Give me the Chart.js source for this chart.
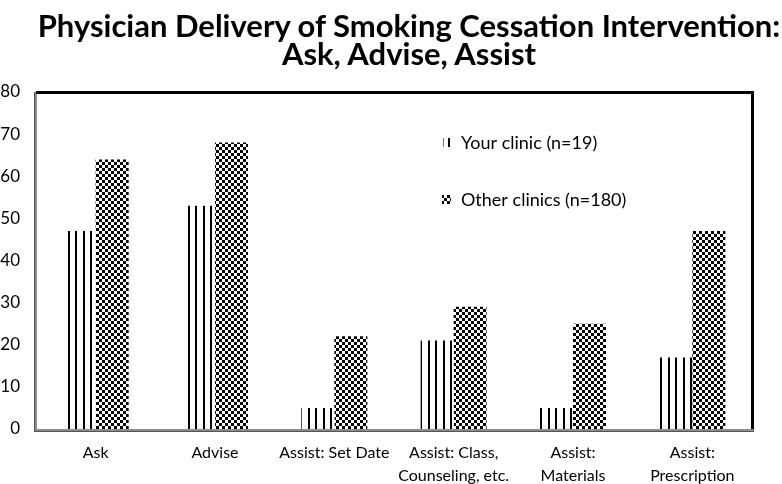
<!DOCTYPE html>
<html>
<head>
<meta charset="utf-8">
<script src="https://cdn.jsdelivr.net/npm/chart.js@4.4.1/dist/chart.umd.min.js"></script>
<style>
  html, body { margin: 0; padding: 0; background: #fff; overflow: hidden; }
  #wrap { width: 782px; height: 484px; position: relative; overflow: hidden; }
  #title {
    position: absolute; left: 9px; top: 11px; width: 800px;
    text-align: center; font: bold 31px/28px Lato, 'Open Sans', sans-serif; color: #000;
  }
</style>
</head>
<body>
<div id="wrap">
  <canvas id="chart"></canvas>
  <div id="title"></div>
</div>
<script>
// DATOS
const categories = [["Ask"], ["Advise"], ["Assist: Set Date"], ["Assist: Class,", "Counseling, etc."], ["Assist:", "Materials"], ["Assist:", "Prescription"]];
const yourClinic = [47, 53, 5, 21, 5, 17];
const otherClinics = [64, 68, 22, 29, 25, 47];
const seriesLabels = ["Your clinic (n=19)", "Other clinics (n=180)"];
const titleLines = ["Physician Delivery of Smoking Cessation Intervention:", "Ask, Advise, Assist"];
const yMin = 0, yMax = 80, yStep = 10;

const FONT = "Lato, 'Open Sans', 'Liberation Sans', sans-serif";
const el = (id) => document.getElementById(id);

el("title").innerHTML = titleLines.join("<br>");

// PATRONES
const makeStripes = () => {
    const c = document.createElement("canvas");
    c.width = 15; c.height = 4;
    const g = c.getContext("2d");
    g.fillStyle = "#fff"; g.fillRect(0, 0, 15, 4);
    g.fillStyle = "#000";
    g.fillRect(0, 0, 2, 4);
    g.fillRect(8, 0, 2, 4);
    return g.createPattern(c, "repeat");
};
const makeChecker = () => {
    const c = document.createElement("canvas");
    c.width = 6; c.height = 6;
    const g = c.getContext("2d");
    g.fillStyle = "#fff"; g.fillRect(0, 0, 6, 6);
    g.fillStyle = "#000";
    g.fillRect(0, 0, 3, 3);
    g.fillRect(3, 3, 3, 3);
    return g.createPattern(c, "repeat");
};
const stripes = makeStripes(), checker = makeChecker();

// MARCO DEL GRAFICO
const framePlugin = {
    id: "frame",
    afterDatasetsDraw(chart) {
        const { ctx, chartArea: a } = chart;
        ctx.save();
        // izquierda y abajo en gris
        ctx.fillStyle = "#8c8c8c";
        ctx.fillRect(a.left - 2, a.top, 3, a.bottom - a.top + 2);
        ctx.fillRect(a.left - 2, a.bottom, a.right - a.left + 4, 3);
        ctx.fillStyle = "#555";
        ctx.fillRect(a.left - 2, a.top, 1, a.bottom - a.top + 3);
        ctx.fillRect(a.left - 2, a.bottom + 2, a.right - a.left + 4, 1);
        // arriba y derecha en negro
        ctx.fillStyle = "#000";
        ctx.fillRect(a.left, a.top - 1, a.right - a.left + 2, 3);
        ctx.fillRect(a.right - 1, a.top - 1, 3, a.bottom - a.top + 1);
        ctx.restore();
    }
};

// LEYENDA DENTRO DEL AREA
const legendPlugin = {
    id: "innerLegend",
    afterDraw(chart) {
        const { ctx, chartArea: a } = chart;
        const x = a.left + 406;
        const ys = [a.top + 50, a.top + 107];
        ctx.save();
        ctx.font = "18px " + FONT;
        ctx.textBaseline = "middle";
        // serie 1: dos rayas
        ctx.fillStyle = "#777";
        ctx.fillRect(x + 1, ys[0] - 4, 1, 9);
        ctx.fillStyle = "#000";
        ctx.fillRect(x + 6, ys[0] - 4, 2, 9);
        // serie 2: cuadro ajedrez
        ctx.fillStyle = checker;
        ctx.fillRect(x, ys[1] - 4, 9, 9);
        ctx.fillStyle = "#000";
        chart.data.datasets.forEach((d, i) => ctx.fillText(d.label, x + 19, ys[i] + 1));
        ctx.restore();
    }
};

new Chart(el("chart"), {
    type: "bar",
    data: {
        labels: categories,
        datasets: [
            { label: seriesLabels[0], data: yourClinic, backgroundColor: stripes, borderWidth: 0 },
            { label: seriesLabels[1], data: otherClinics, backgroundColor: checker, borderWidth: 0 }
        ]
    },
    options: {
        responsive: true,
        maintainAspectRatio: false,
        animation: false,
        layout: { padding: { left: 0, right: 30, top: 92, bottom: 0 } },
        datasets: { bar: { barPercentage: 1, categoryPercentage: 0.553 } },
        plugins: {
            legend: { display: false },
            tooltip: { enabled: false },
            title: { display: false }
        },
        scales: {
            x: {
                grid: { display: false, drawTicks: false },
                border: { display: false },
                ticks: {
                    color: "#000", maxRotation: 0, autoSkip: false, padding: 13,
                    font: { family: FONT, size: 16, lineHeight: 1.4 }
                },
                afterFit: (s) => { s.height = 55; }
            },
            y: {
                min: yMin, max: yMax,
                grid: { display: false, drawTicks: false },
                border: { display: false },
                ticks: {
                    stepSize: yStep, color: "#000", padding: 16,
                    font: { family: FONT, size: 17 }
                },
                afterFit: (s) => { s.width = 36; }
            }
        }
    },
    plugins: [framePlugin, legendPlugin]
});
</script>
</body>
</html>
